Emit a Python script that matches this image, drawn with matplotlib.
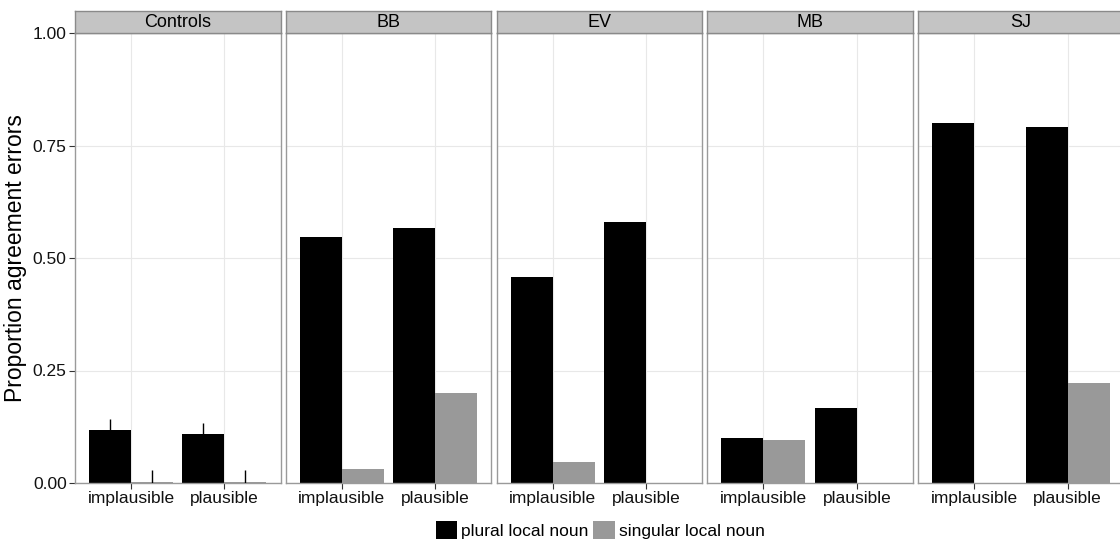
import numpy as np
import matplotlib
matplotlib.use('Agg')
import matplotlib.pyplot as plt
from matplotlib.patches import Patch

plt.rcParams['font.family'] = ['Liberation Sans', 'DejaVu Sans']

# data
groups = ['Controls', 'BB', 'EV', 'MB', 'SJ']
conditions = ['implausible', 'plausible']
plural = {
    'Controls': [0.118, 0.110],
    'BB': [0.547, 0.567],
    'EV': [0.458, 0.580],
    'MB': [0.100, 0.167],
    'SJ': [0.800, 0.791],
}
singular = {
    'Controls': [0.003, 0.003],
    'BB': [0.031, 0.200],
    'EV': [0.047, 0.0],
    'MB': [0.096, 0.0],
    'SJ': [0.0, 0.222],
}
# standard errors, only drawn for the control group
plural_se = {'Controls': [0.024, 0.024]}
singular_se = {'Controls': [0.026, 0.026]}

W, H = 1120, 547
fig = plt.figure(figsize=(W / 100, H / 100), dpi=100)

left0 = 75
pw = 205.5
step = 210.8
top = 33
bottom = 483
strip_h = 22

c_plural = '#000000'
c_sing = '#999999'
x = np.arange(1, len(conditions) + 1)
bw = 0.45

for i, g in enumerate(groups):
    l = left0 + i * step
    ax = fig.add_axes([l / W, 1 - bottom / H, pw / W, (bottom - top) / H])
    ax.bar(x - bw / 2, plural[g], width=bw, color=c_plural, zorder=2)
    ax.bar(x + bw / 2, singular[g], width=bw, color=c_sing, zorder=2)
    if g in plural_se:
        ax.vlines(x - bw / 2, np.array(plural[g]) - plural_se[g],
                  np.array(plural[g]) + plural_se[g], color='black', lw=1, zorder=3)
        ax.vlines(x + bw / 2, np.array(singular[g]) - singular_se[g],
                  np.array(singular[g]) + singular_se[g], color='black', lw=1, zorder=3)
    ax.set_xlim(0.4, 2.6)
    ax.set_ylim(0, 1)
    ax.set_xticks(x)
    ax.set_xticklabels(conditions, fontsize=12.5, color='#111111')
    ax.set_yticks([0, 0.25, 0.5, 0.75, 1.0])
    ax.grid(True, color='#e8e8e8', lw=0.8, zorder=0)
    ax.set_axisbelow(True)
    for s in ax.spines.values():
        s.set_color('#9a9a9a')
        s.set_linewidth(1)
    ax.tick_params(axis='x', length=4, width=0.8, color='#333333', pad=2)
    if i == 0:
        ax.set_yticklabels(['0.00', '0.25', '0.50', '0.75', '1.00'], fontsize=12.5, color='#111111')
        ax.tick_params(axis='y', length=4, width=0.8, color='#333333', pad=2)
        ax.set_ylabel('Proportion agreement errors', fontsize=16.5, labelpad=4)
    else:
        ax.tick_params(axis='y', length=0, labelleft=False)

    # facet strip
    sax = fig.add_axes([l / W, 1 - top / H, pw / W, strip_h / H])
    sax.set_facecolor('#c4c4c4')
    sax.set_xticks([])
    sax.set_yticks([])
    for s in sax.spines.values():
        s.set_color('#8a8a8a')
        s.set_linewidth(1)
    sax.text(0.5, 0.47, g, ha='center', va='center', fontsize=13, transform=sax.transAxes)

handles = [Patch(facecolor=c_plural, label='plural local noun'),
           Patch(facecolor=c_sing, label='singular local noun')]
fig.legend(handles=handles, loc='center', bbox_to_anchor=(600 / W, 1 - 530 / H),
           ncol=2, frameon=False, fontsize=12.5, handlelength=1.25, handleheight=1.25,
           handletextpad=0.2, columnspacing=0.3, borderpad=0)

fig.savefig('out.png', dpi=100)
